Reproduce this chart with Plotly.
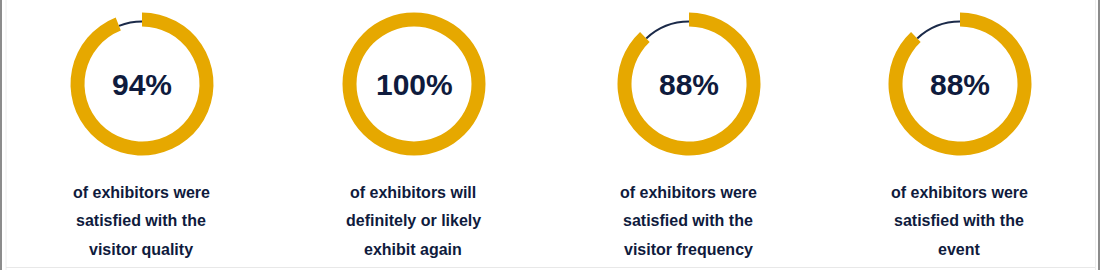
import plotly.graph_objects as go

# ---- data ----
percent_values = [94, 100, 88, 88]
percent_labels = ["94%", "100%", "88%", "88%"]
caption_lines = [
    ["of exhibitors were", "satisfied with the", "visitor quality"],
    ["of exhibitors will", "definitely or likely", "exhibit again"],
    ["of exhibitors were", "satisfied with the", "visitor frequency"],
    ["of exhibitors were", "satisfied with the", "event"],
]

# ---- style / layout constants ----
W, H = 1100, 270
GOLD = "#E6A800"
NAVY = "#0F1B3D"
ARC = "#1B2A49"
centers_x = [142, 414, 689, 960]
center_y = 84
R_OUT = 71.5
R_IN = 57.5
ARC_OUT = 63.5
ARC_IN = 61.5
caption_y = [192, 220.5, 249]

fig = go.Figure()


def domain(cx, cy, r):
    return dict(
        x=[(cx - r) / W, (cx + r) / W],
        y=[(H - cy - r) / H, (H - cy + r) / H],
    )


for i, v in enumerate(percent_values):
    cx = centers_x[i]
    # thin arc for the remainder
    fig.add_trace(go.Pie(
        values=[v, 100 - v],
        hole=ARC_IN / ARC_OUT,
        sort=False,
        direction="clockwise",
        rotation=0,
        marker=dict(colors=["rgba(0,0,0,0)", ARC], line=dict(width=0)),
        textinfo="none",
        hoverinfo="skip",
        showlegend=False,
        domain=domain(cx, center_y, ARC_OUT),
    ))
    # gold ring
    fig.add_trace(go.Pie(
        values=[v, 100 - v],
        hole=R_IN / R_OUT,
        sort=False,
        direction="clockwise",
        rotation=0,
        marker=dict(colors=[GOLD, "rgba(0,0,0,0)"], line=dict(width=0)),
        textinfo="none",
        hoverinfo="skip",
        showlegend=False,
        domain=domain(cx, center_y, R_OUT),
    ))
    fig.add_annotation(
        x=cx / W, y=(H - center_y - 1) / H, xref="paper", yref="paper",
        text=f"<b>{percent_labels[i]}</b>", showarrow=False,
        font=dict(family="Arial, Liberation Sans", size=30, color=NAVY),
        xanchor="center", yanchor="middle",
    )
    for j, line in enumerate(caption_lines[i]):
        fig.add_annotation(
            x=(cx - 1) / W, y=(H - caption_y[j]) / H, xref="paper", yref="paper",
            text=f"<b>{line}</b>", showarrow=False,
            font=dict(family="Arial, Liberation Sans", size=16, color=NAVY),
            xanchor="center", yanchor="middle",
        )

# frame lines
shapes = [
    dict(type="rect", xref="paper", yref="paper", x0=0, x1=2 / W, y0=0, y1=1,
         fillcolor="#8C8C8C", line=dict(width=0)),
    dict(type="rect", xref="paper", yref="paper", x0=1098 / W, x1=1, y0=0, y1=1,
         fillcolor="#8C8C8C", line=dict(width=0)),
    dict(type="line", xref="paper", yref="paper", x0=6 / W, x1=6 / W, y0=0, y1=1,
         line=dict(color="#EEEEEE", width=1)),
    dict(type="line", xref="paper", yref="paper", x0=1095.5 / W, x1=1095.5 / W, y0=0, y1=1,
         line=dict(color="#EEEEEE", width=1)),
    dict(type="line", xref="paper", yref="paper", x0=6 / W, x1=1095 / W,
         y0=(H - 267.5) / H, y1=(H - 267.5) / H,
         line=dict(color="#E8E8E8", width=1)),
]

fig.update_layout(
    width=W, height=H,
    margin=dict(l=0, r=0, t=0, b=0),
    paper_bgcolor="white", plot_bgcolor="white",
    shapes=shapes,
    showlegend=False,
)

fig.write_html("out.html", config={"displayModeBar": False})
